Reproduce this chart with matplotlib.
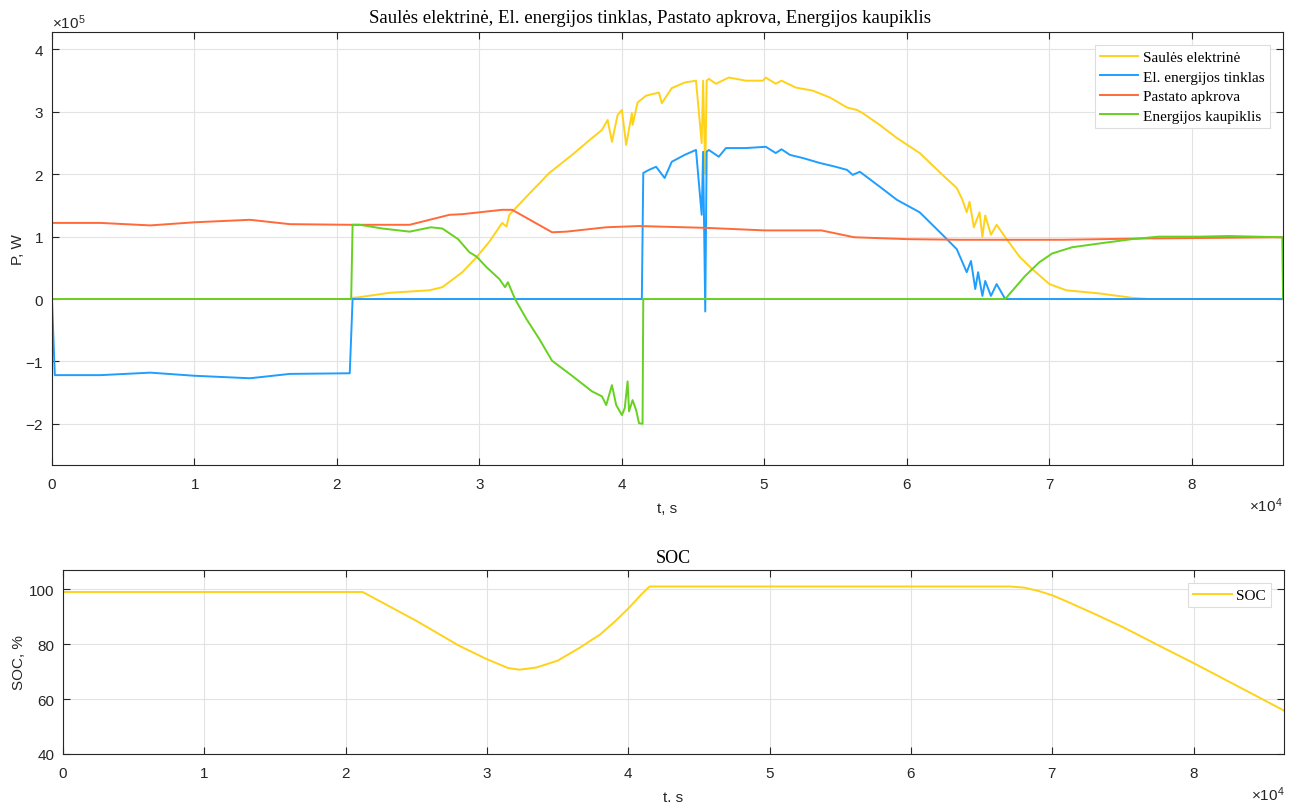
import matplotlib
matplotlib.use("Agg")
import matplotlib.pyplot as plt
import numpy as np

plt.rcParams['font.family'] = ['Liberation Sans', 'DejaVu Sans']
plt.rcParams['mathtext.fontset'] = 'custom'
plt.rcParams['mathtext.rm'] = 'Liberation Sans'
plt.rcParams['mathtext.it'] = 'Liberation Sans'
plt.rcParams['axes.unicode_minus'] = False

# --- duomenys (t, s ; P, W) ---
t_saule = [0, 21000, 21100, 21600, 23700, 26500, 27400, 28800, 29800, 30700, 31600, 31900,
           32100, 33300, 34900, 36500, 37900, 38600, 39000, 39300, 39700, 40000, 40300,
           40700, 40750, 41100, 41700, 42600, 42800, 43500, 44400, 45200, 45600, 45700,
           45850, 45950, 46100, 46600, 47500, 48700, 49900, 50100, 50800, 51200, 52200,
           53400, 54600, 55800, 56500, 56900, 58100, 59300, 60900, 62500, 63500, 63900,
           64200, 64400, 64700, 65100, 65300, 65500, 65900, 66300, 67000, 67900, 68800,
           70000, 71200, 73500, 75800, 77000, 86400]
p_saule = [0, 0, 2000, 3000, 10000, 14000, 19000, 43000, 67000, 92000, 122000, 116000,
           135000, 164000, 202000, 231000, 258000, 271000, 287000, 252000, 295000, 303000, 247000,
           298000, 279000, 315000, 326000, 331000, 314000, 338000, 347000, 350000, 250000, 350000,
           200000, 350000, 353000, 345000, 355000, 350000, 350000, 355000, 345000, 350000, 339000,
           334000, 323000, 307000, 303000, 298000, 279000, 258000, 234000, 199000, 178000, 159000,
           139000, 156000, 115000, 139000, 100000, 134000, 103000, 119000, 96000, 68000, 48000,
           24000, 14000, 9000, 2000, 0, 0]

t_tinklas = [0, 200, 3400, 6900, 10000, 13900, 16700, 20900, 21100, 41400, 41500, 41900,
             42400, 42800, 43000, 43500, 44400, 45200, 45600, 45700, 45850, 45950, 46100,
             46800, 47300, 48700, 50100, 50800, 51200, 51800, 52700, 53900, 55000, 55800,
             56200, 56700, 58100, 59300, 60900, 62500, 63500, 63900, 64200, 64500, 64800,
             65000, 65300, 65500, 65900, 66300, 66900, 86400]
p_tinklas = [0, -122000, -122000, -118000, -123000, -127000, -120000, -119000, 0, 0, 202000, 207000,
             212000, 200000, 194000, 220000, 231000, 239000, 135000, 236000, -20000, 236000, 239000,
             228000, 242000, 242000, 244000, 234000, 240000, 231000, 226000, 218000, 212000, 207000,
             199000, 204000, 180000, 159000, 139000, 103000, 80000, 59000, 43000, 61000, 16000,
             43000, 5000, 29000, 5000, 24000, 0, 0]

t_apkrova = [0, 3400, 6900, 10000, 13900, 16700, 20900, 25100, 27900, 28800, 31600, 32300,
             35100, 36100, 38900, 41200, 46000, 50000, 54000, 56300, 60000, 63700, 71000,
             76500, 86400]
p_apkrova = [122000, 122000, 118000, 123000, 127000, 120000, 119000, 119000, 135000, 136000, 143000, 143000,
             107000, 108000, 115000, 117000, 114000, 110000, 110000, 99000, 96000, 95000, 95000,
             97000, 99000]

t_kaupiklis = [0, 21000, 21100, 21600, 23200, 25100, 26600, 27400, 28500, 29300, 29800, 30500,
               31400, 31800, 32000, 32500, 33300, 34200, 35100, 36500, 37900, 38600, 38900,
               39300, 39600, 40000, 40200, 40400, 40500, 40750, 41000, 41200, 41450, 41500,
               66900, 68300, 69300, 70200, 71600, 73500, 75800, 77700, 80500, 82600, 86350, 86400]
p_kaupiklis = [0, 0, 119000, 119000, 113000, 108000, 115000, 113000, 96000, 75000, 68000, 51000,
               32000, 19000, 27000, 0, -32000, -64000, -99000, -123000, -148000, -156000, -170000,
               -138000, -170000, -186000, -175000, -132000, -180000, -162000, -178000, -199000, -200000, 0,
               0, 37000, 59000, 73000, 83000, 89000, 96000, 100000, 100000, 101000, 99000, 0]

t_soc = [0, 21200, 25000, 28000, 30000, 31500, 32300, 33500, 35000, 36500, 38000, 39000, 40000,
         41000, 41500, 67000, 68000, 69000, 70000, 71000, 73000, 75000, 78000, 80000, 83000, 86400]
soc = [99, 99, 88.5, 79.5, 74.5, 71.3, 70.7, 71.5, 74, 78.5, 83.5, 88, 93,
       98.5, 101, 101, 100.6, 99.4, 97.8, 95.6, 91, 86.2, 78.3, 73.1, 65, 55.8]

c_saule = '#FFD21A'
c_tinklas = '#1E9EFF'
c_apkrova = '#FF6A3A'
c_kaupiklis = '#66D120'
ax_col = '#262626'

fig = plt.figure(figsize=(12.99, 8.03), dpi=100)
ax1 = fig.add_axes([0.0400, 0.4197, 0.9477, 0.5392])
ax2 = fig.add_axes([0.0485, 0.0598, 0.9400, 0.2291])

lw = 1.4
ax1.plot(t_saule, p_saule, color=c_saule, lw=lw, label='Saulės elektrinė')
ax1.plot(t_tinklas, p_tinklas, color=c_tinklas, lw=lw, label='El. energijos tinklas')
ax1.plot(t_apkrova, p_apkrova, color=c_apkrova, lw=lw, label='Pastato apkrova')
ax1.plot(t_kaupiklis, p_kaupiklis, color=c_kaupiklis, lw=lw, label='Energijos kaupiklis')
ax1.set_xlim(0, 86400)
ax1.set_ylim(-266000, 428000)
ax1.set_yticks(np.arange(-2e5, 4.01e5, 1e5))
ax1.set_xticks(np.arange(0, 8.01e4, 1e4))

ax2.plot(t_soc, soc, color=c_saule, lw=lw, label='SOC')
ax2.set_xlim(0, 86400)
ax2.set_ylim(40, 107)
ax2.set_yticks([40, 60, 80, 100])
ax2.set_xticks(np.arange(0, 8.01e4, 1e4))

for ax in (ax1, ax2):
    ax.grid(True, color='#E3E3E3', lw=0.8)
    ax.set_axisbelow(True)
    ax.tick_params(direction='in', top=True, right=True, length=5, width=0.8,
                   labelsize=11, colors=ax_col)
    ax.tick_params(axis='x', pad=9)
    ax.tick_params(axis='y', pad=6)
    for s in ax.spines.values():
        s.set_color(ax_col)
        s.set_linewidth(0.8)
    ax.ticklabel_format(axis='x', style='sci', scilimits=(0, 0), useMathText=True)
    ax.xaxis.get_offset_text().set_fontsize(11)
    ax.xaxis.get_offset_text().set_color(ax_col)
    ax.set_xlabel('t, s', fontsize=11, color=ax_col, labelpad=7)

ax1.ticklabel_format(axis='y', style='sci', scilimits=(0, 0), useMathText=True)
ax1.yaxis.get_offset_text().set_fontsize(11)
ax1.yaxis.get_offset_text().set_color(ax_col)

ax1.set_ylabel('P, W', fontsize=11, color=ax_col, labelpad=0)
ax2.set_ylabel('SOC, %', fontsize=11, color=ax_col, labelpad=2)

ax1.set_title('Saulės elektrinė, El. energijos tinklas, Pastato apkrova, Energijos kaupiklis',
              fontsize=13.5, family='Liberation Serif', color='black', pad=7, x=0.486)
ax2.set_title('SOC', fontsize=13, family='Liberation Serif', color='black', pad=6)

leg_kw = dict(loc='upper right', prop={'family': 'Liberation Serif', 'size': 11},
              fancybox=False, edgecolor='#DDDDDD', framealpha=1, handlelength=2.5,
              labelspacing=0.38, borderaxespad=0.85, handletextpad=0.3, borderpad=0.35)
l1 = ax1.legend(**leg_kw)
l2 = ax2.legend(**leg_kw)
for l in (l1, l2):
    l.get_frame().set_linewidth(0.8)

fig.savefig('out.png', dpi=100)
